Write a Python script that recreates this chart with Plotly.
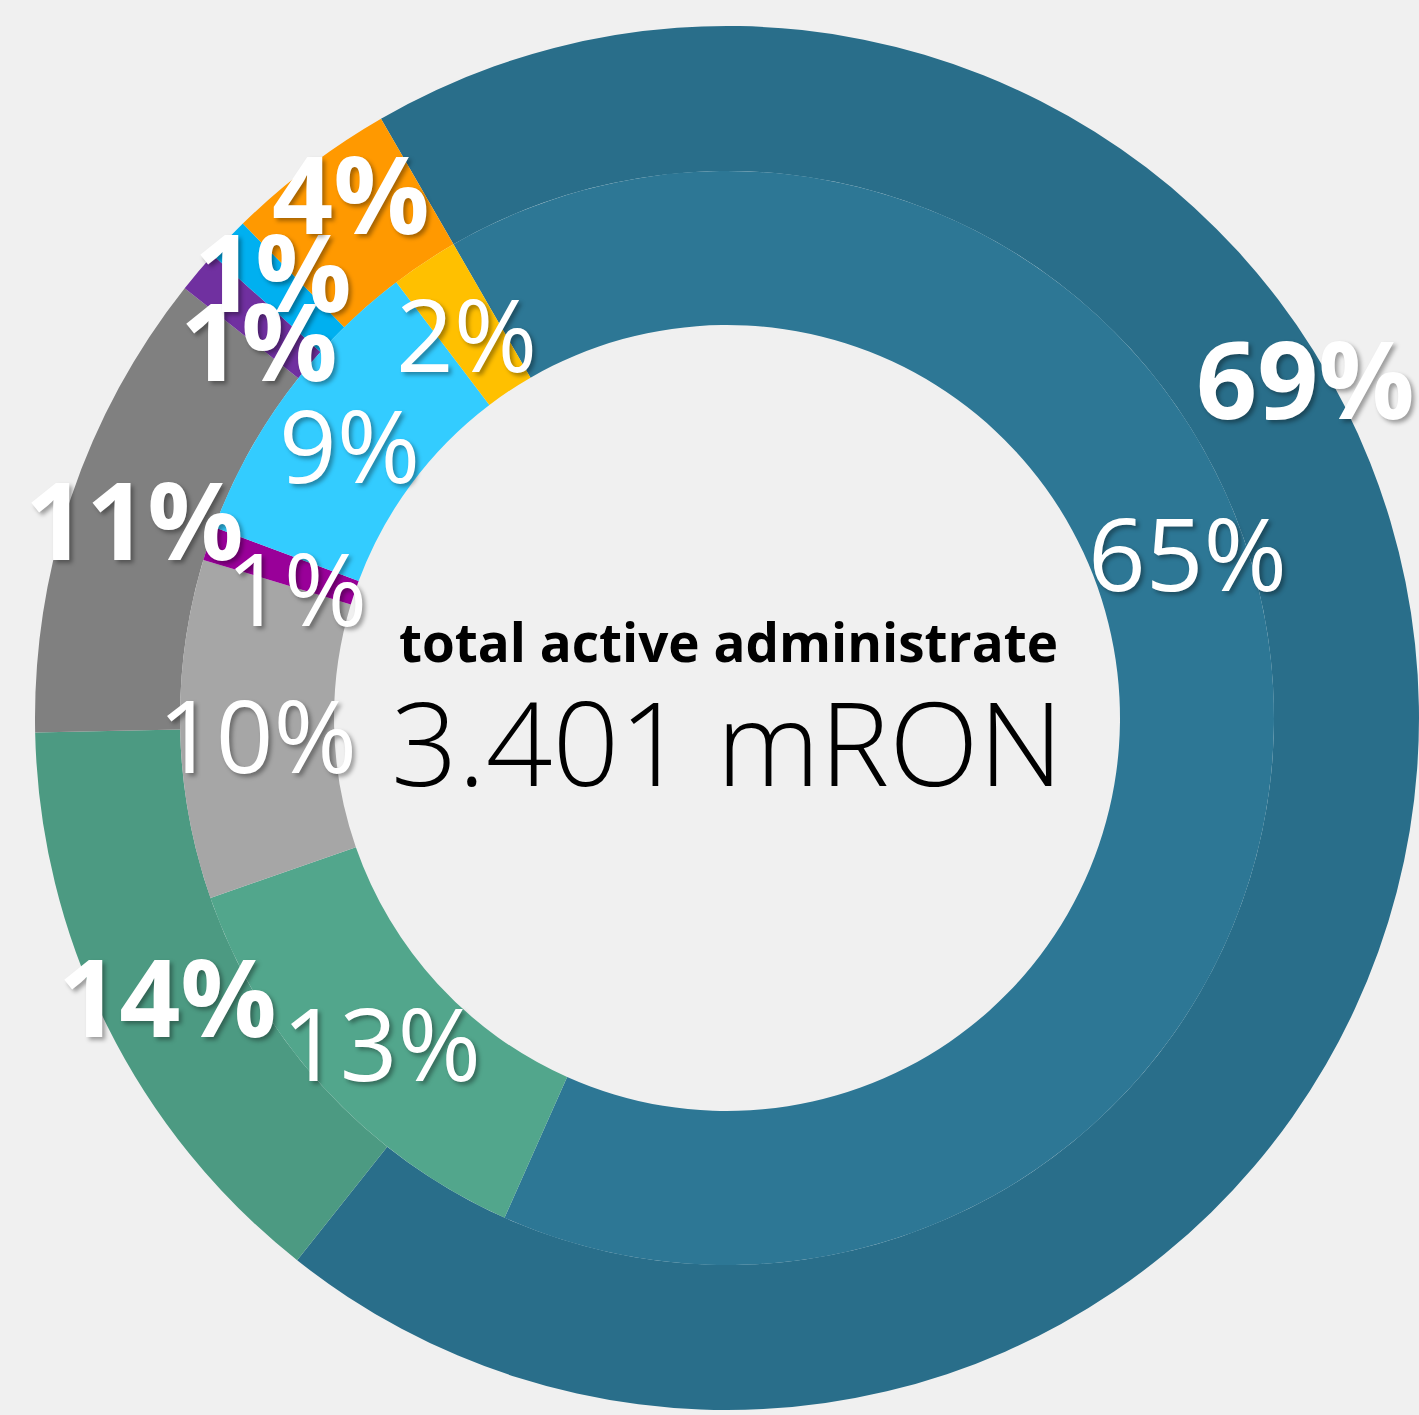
import math
import plotly.graph_objects as go

# ---------------- data ----------------
outer_labels = ["A", "B", "C", "D", "E", "F"]
outer_values = [69, 14, 11, 1, 1, 4]
outer_colors = ["#296e8a", "#4c9a82", "#808080", "#7030a0", "#00b0f0", "#ff9900"]

inner_labels = ["A", "B", "C", "D", "E", "F"]
inner_values = [65, 13, 10, 1, 9, 2]
inner_colors = ["#2d7795", "#52a68c", "#a6a6a6", "#990099", "#33ccff", "#ffc000"]

center_title = "total active administrate"
center_value = "3.401 mRON"

# ---------------- layout constants ----------------
W, H = 1419, 1415
CX, CY = 727, 718          # pie centre in pixels (from top-left)
R_OUT = 692                # outer ring outer radius (px)
R_MID = 547                # boundary between rings
R_HOLE = 393               # inner hole radius
ROTATION = 330             # first slice starts here (deg, clockwise from 12 o'clock)
BG = "#f0f0f0"
FONT = "Open Sans"
SHADOW = "3px 3px 4px rgba(0,0,0,0.35)"

# label placement: radius per ring, with (angle, radius) overrides where the
# reference spreads labels apart
OUT_LABEL_R = 625
IN_LABEL_R = 470
OUT_DY = 0
IN_DY = 6
OUT_OVERRIDE = {0: (59.5, 671), 3: (309, 602), 4: (314.6, 638), 5: (324.4, 646)}
IN_OVERRIDE = {0: (69.5, 492), 3: (287.7, 452)}


def px_to_paper(x, y):
    return x / W, 1 - y / H


def domain_for(r):
    x0, y1 = px_to_paper(CX - r, CY - r)
    x1, y0 = px_to_paper(CX + r, CY + r)
    return dict(x=[max(0, x0), min(1, x1)], y=[max(0, y0), min(1, y1)])


fig = go.Figure()
fig.add_trace(go.Pie(
    labels=outer_labels, values=outer_values, sort=False, direction="clockwise",
    rotation=ROTATION, hole=R_MID / R_OUT, textinfo="none", hoverinfo="skip",
    marker=dict(colors=outer_colors, line=dict(width=0)),
    domain=domain_for(R_OUT), showlegend=False,
))
fig.add_trace(go.Pie(
    labels=inner_labels, values=inner_values, sort=False, direction="clockwise",
    rotation=ROTATION, hole=R_HOLE / R_MID, textinfo="none", hoverinfo="skip",
    marker=dict(colors=inner_colors, line=dict(width=0)),
    domain=domain_for(R_MID), showlegend=False,
))


def ring_labels(values, radius, overrides, bold, dy):
    total = sum(values)
    cum = 0
    anns = []
    for i, v in enumerate(values):
        mid = ROTATION + (cum + v / 2) / total * 360
        cum += v
        ang, r = overrides.get(i, (mid, radius))
        a = math.radians(ang)
        x = CX + r * math.sin(a)
        y = CY - r * math.cos(a) + dy
        px, py = px_to_paper(x, y)
        pct = round(v / total * 100)
        anns.append(dict(
            x=px, y=py, xref="paper", yref="paper", showarrow=False,
            text=f"{pct}%", xanchor="center", yanchor="middle",
            font=dict(family=FONT, size=107 if bold else 101, color="white",
                      weight=700 if bold else 400, shadow=SHADOW),
        ))
    return anns


annotations = []
annotations += ring_labels(inner_values, IN_LABEL_R, IN_OVERRIDE, False, IN_DY)
annotations += ring_labels(outer_values, OUT_LABEL_R, OUT_OVERRIDE, True, OUT_DY)

tx, ty = px_to_paper(728, 641)
annotations.append(dict(x=tx, y=ty, xref="paper", yref="paper", showarrow=False,
                        text=center_title, xanchor="center", yanchor="middle",
                        font=dict(family=FONT, size=53, color="black", weight=700)))
vx, vy = px_to_paper(727, 740)
annotations.append(dict(x=vx, y=vy, xref="paper", yref="paper", showarrow=False,
                        text=center_value, xanchor="center", yanchor="middle",
                        font=dict(family=FONT, size=117, color="black", weight=300)))

fig.update_layout(
    width=W, height=H, margin=dict(l=0, r=0, t=0, b=0, pad=0),
    paper_bgcolor=BG, plot_bgcolor=BG, annotations=annotations,
)

fig.write_html("out.html",
               config={"displayModeBar": False},
               post_script="document.body.style.margin='0';"
                           "document.body.style.background='#f0f0f0';"
                           "document.body.style.overflow='hidden';")
